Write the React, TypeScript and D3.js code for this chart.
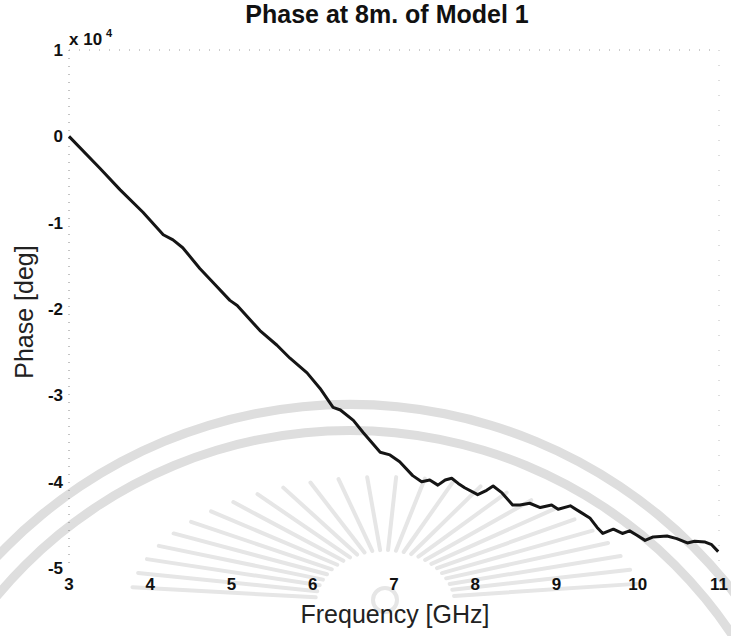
import React from "react";
import * as d3 from "d3";

const freqGHz = [3.0, 3.38, 3.63, 3.91, 4.16, 4.28, 4.4, 4.61, 4.77, 4.98, 5.07, 5.35, 5.56, 5.72, 5.93, 6.09, 6.25, 6.34, 6.5, 6.62, 6.83, 6.95, 7.07, 7.23, 7.34, 7.44, 7.54, 7.63, 7.71, 7.79, 7.87, 8.03, 8.14, 8.22, 8.33, 8.46, 8.55, 8.67, 8.8, 8.94, 9.02, 9.17, 9.29, 9.41, 9.5, 9.57, 9.7, 9.81, 9.9, 9.99, 10.09, 10.19, 10.36, 10.48, 10.61, 10.7, 10.83, 10.91, 10.99];
const phaseE4 = [0.0, -0.37, -0.62, -0.88, -1.14, -1.2, -1.29, -1.53, -1.69, -1.9, -1.96, -2.25, -2.42, -2.57, -2.74, -2.92, -3.14, -3.17, -3.29, -3.43, -3.66, -3.69, -3.77, -3.93, -4.0, -3.98, -4.04, -3.98, -3.96, -4.02, -4.07, -4.15, -4.1, -4.05, -4.13, -4.27, -4.27, -4.25, -4.3, -4.27, -4.32, -4.28, -4.35, -4.42, -4.53, -4.6, -4.55, -4.6, -4.57, -4.62, -4.68, -4.64, -4.63, -4.66, -4.71, -4.69, -4.7, -4.73, -4.81];
const xTicks = [3, 4, 5, 6, 7, 8, 9, 10, 11];
const yTicks = [1, 0, -1, -2, -3, -4, -5];
const title = "Phase at 8m. of Model 1";
const xLabel = "Frequency [GHz]";
const yLabel = "Phase [deg]";

const W = 731;
const H = 636;
const left = 69, right = 719, top = 50, bottom = 568;

export default function App() {
  const x = d3.scaleLinear().domain([3, 11]).range([left, right]);
  const y = d3.scaleLinear().domain([-5, 1]).range([bottom, top]);
  const pts = freqGHz.map((f, i) => [f, phaseE4[i]] as [number, number]);
  const line = d3.line<[number, number]>().x(d => x(d[0])).y(d => y(d[1]));

  // watermark geometry
  const arcOuter = d3.arc()({ innerRadius: 481, outerRadius: 490, startAngle: -Math.PI / 2, endAngle: Math.PI / 2 } as any) || "";
  const arcInner = d3.arc()({ innerRadius: 455, outerRadius: 464, startAngle: -Math.PI / 2, endAngle: Math.PI / 2 } as any) || "";
  const rayAngles = d3.range(-172, -7, 6.5);
  const sun = { cx: 385, cy: 605 };

  const font = "'Liberation Sans', Arial, Helvetica, sans-serif";

  return (
    <svg width={W} height={H} style={{ position: "absolute", left: 0, top: 0, background: "#fff" }}>
      <g>
        <path d={arcOuter} transform="translate(350,890)" fill="#dedede" />
        <path d={arcInner} transform="translate(350,890)" fill="#dedede" />
        {rayAngles.map((a, i) => {
          const r = (a * Math.PI) / 180;
          const c = Math.cos(r), s = Math.sin(r);
          return (
            <line key={i}
              x1={sun.cx + 70 * c} y1={sun.cy + 55 * s}
              x2={sun.cx + 255 * c} y2={sun.cy + 128 * s}
              stroke="#e6e6e6" strokeWidth={4} strokeLinecap="round" />
          );
        })}
        <circle cx={sun.cx} cy={sun.cy - 5} r={12} fill="none" stroke="#e6e6e6" strokeWidth={4} />
      </g>

      {/* axes box (faint, scanned look) */}
      <line x1={left} y1={top} x2={right} y2={top} stroke="#999" strokeWidth={1} strokeDasharray="1 9" />
      <line x1={right} y1={top} x2={right} y2={bottom} stroke="#bbb" strokeWidth={1} strokeDasharray="1 14" />
      <line x1={left} y1={top} x2={left} y2={bottom} stroke="#888" strokeWidth={1} strokeDasharray="1 7" />

      {yTicks.map(t => (
        <text key={"y" + t} x={left - 6} y={y(t)} dy="0.35em" textAnchor="end"
          fontFamily={font} fontWeight="bold" fontSize={17} fill="#111">{t}</text>
      ))}
      {xTicks.map(t => (
        <text key={"x" + t} x={x(t)} y={bottom + 22} textAnchor="middle"
          fontFamily={font} fontWeight="bold" fontSize={17} fill="#111">{t}</text>
      ))}

      <text x={left} y={45} fontFamily={font} fontWeight="bold" fontSize={17} fill="#111">x 10</text>
      <text x={106} y={37} fontFamily={font} fontWeight="bold" fontSize={11} fill="#111">4</text>

      <path d={line(pts) || ""} fill="none" stroke="#151515" strokeWidth={3} strokeLinejoin="round" />

      <text x={387} y={23} textAnchor="middle" fontFamily={font} fontWeight="bold" fontSize={25} fill="#111">{title}</text>
      <text x={395} y={623} textAnchor="middle" fontFamily={font} fontSize={25} fill="#222">{xLabel}</text>
      <text transform="translate(33,312) rotate(-90)" textAnchor="middle" fontFamily={font} fontSize={25} fill="#222">{yLabel}</text>
    </svg>
  );
}
